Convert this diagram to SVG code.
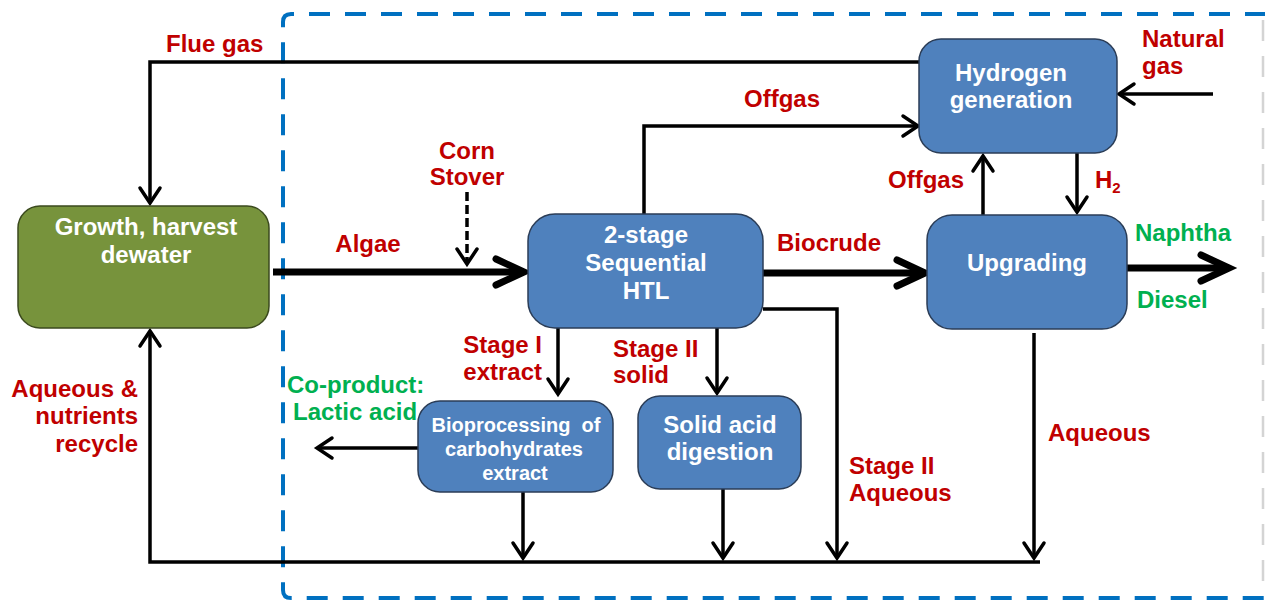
<svg xmlns="http://www.w3.org/2000/svg" width="1265" height="601" viewBox="0 0 1265 601">
<style>
text{font-family:"Liberation Sans",Arial,sans-serif;font-weight:bold;}
.lbl{font-size:24px;fill:#C00000;}
.grn{font-size:24px;fill:#00B050;}
.bt{font-size:24px;fill:#FFFFFF;text-anchor:middle;}
.blue{fill:#4F81BD;stroke:#2B3D57;stroke-width:1.5;}
.green{fill:#77933C;stroke:#3B4A1E;stroke-width:1.5;}
.c{fill:none;stroke:#000;stroke-width:3.5;}
.t{fill:none;stroke:#000;stroke-width:7;}
</style>
<defs>
<marker id="ah" markerUnits="userSpaceOnUse" viewBox="-20 -14 26 28" refX="0" refY="0" markerWidth="26" markerHeight="28" orient="auto" overflow="visible">
<path d="M-15,-10 L0,0 L-15,10" fill="none" stroke="#000" stroke-width="3.5" stroke-dasharray="none" stroke-linecap="round"/>
</marker>
<marker id="ahT" markerUnits="userSpaceOnUse" viewBox="-40 -20 46 40" refX="0" refY="0" markerWidth="46" markerHeight="40" orient="auto" overflow="visible">
<path d="M-28,-13 L0,0 L-28,13" fill="none" stroke="#000" stroke-width="7" stroke-linecap="round"/>
</marker>
</defs>
<rect width="1265" height="601" fill="#FFFFFF"/>

<g id="boundary">
<path d="M1266,14 H291 Q283,14 283,22 V590 Q283,598 291,598 H1266" fill="none" stroke="#0070C0" stroke-width="4" stroke-dasharray="21 15"/>
<line x1="1263" y1="20" x2="1263" y2="596" stroke="#D4D4D4" stroke-width="2.5" stroke-dasharray="21 15"/>
</g>

<g id="connectors">
<path class="c" d="M919,62 H150 V203" marker-end="url(#ah)"/>
<path class="t" d="M273,272 H524" marker-end="url(#ahT)"/>
<path d="M467,192 V264" fill="none" stroke="#000" stroke-width="3.5" stroke-dasharray="9 4" marker-end="url(#ah)"/>
<path class="c" d="M644,214 V126 H918" marker-end="url(#ah)"/>
<path class="c" d="M1213,94 H1119" marker-end="url(#ah)"/>
<path class="c" d="M983,215 V156" marker-end="url(#ah)"/>
<path class="c" d="M1077,153 V212" marker-end="url(#ah)"/>
<path class="t" d="M763,273 H925" marker-end="url(#ahT)"/>
<path class="t" d="M1127,268 H1229" marker-end="url(#ahT)"/>
<path class="c" d="M558,328 V394" marker-end="url(#ah)"/>
<path class="c" d="M717,328 V393" marker-end="url(#ah)"/>
<path class="c" d="M418,448 H317" marker-end="url(#ah)"/>
<path class="c" d="M763,309 H837 V558" marker-end="url(#ah)"/>
<path class="c" d="M1034,333 V558" marker-end="url(#ah)"/>
<path class="c" d="M523,492 V558" marker-end="url(#ah)"/>
<path class="c" d="M723,489 V558" marker-end="url(#ah)"/>
<path class="c" d="M1040,562 H150 V331" marker-end="url(#ah)"/>
</g>

<g id="growth">
<rect class="green" x="18" y="206" width="251" height="122" rx="22"/>
<text class="bt" x="146" y="235">Growth, harvest</text>
<text class="bt" x="146" y="263">dewater</text>
</g>

<g id="htl">
<rect class="blue" x="528" y="214" width="235" height="114" rx="27"/>
<text class="bt" x="646" y="243">2-stage</text>
<text class="bt" x="646" y="271">Sequential</text>
<text class="bt" x="646" y="299">HTL</text>
</g>

<g id="hydrogen">
<rect class="blue" x="919" y="39" width="198" height="114" rx="22"/>
<text class="bt" x="1011" y="81">Hydrogen</text>
<text class="bt" x="1011" y="108">generation</text>
</g>

<g id="upgrading">
<rect class="blue" x="927" y="215" width="200" height="114" rx="25"/>
<text class="bt" x="1027" y="271">Upgrading</text>
</g>

<g id="bioprocessing">
<rect class="blue" x="418" y="401" width="195" height="91" rx="22"/>
<text class="bt" x="516" y="432" style="font-size:20px" xml:space="preserve">Bioprocessing  of</text>
<text class="bt" x="514" y="456" style="font-size:20px">carbohydrates</text>
<text class="bt" x="515" y="480" style="font-size:20px">extract</text>
</g>

<g id="solidacid">
<rect class="blue" x="638" y="396" width="163" height="93" rx="22"/>
<text class="bt" x="720" y="433">Solid acid</text>
<text class="bt" x="720" y="460">digestion</text>
</g>

<g id="labels">
<text class="lbl" x="166" y="52">Flue gas</text>
<text class="lbl" x="1142" y="47">Natural</text>
<text class="lbl" x="1142" y="74">gas</text>
<text class="lbl" x="782" y="107" text-anchor="middle">Offgas</text>
<text class="lbl" x="467" y="159" text-anchor="middle">Corn</text>
<text class="lbl" x="467" y="185" text-anchor="middle">Stover</text>
<text class="lbl" x="368" y="252" text-anchor="middle">Algae</text>
<text class="lbl" x="777" y="251">Biocrude</text>
<text class="lbl" x="888" y="188">Offgas</text>
<text class="lbl" x="1095" y="188">H<tspan font-size="15" dy="5">2</tspan></text>
<text class="grn" x="1135" y="241">Naphtha</text>
<text class="grn" x="1137" y="308">Diesel</text>
<text class="lbl" x="542" y="353" text-anchor="end">Stage I</text>
<text class="lbl" x="542" y="380" text-anchor="end">extract</text>
<text class="lbl" x="613" y="357">Stage II</text>
<text class="lbl" x="613" y="383">solid</text>
<text class="grn" x="287" y="393">Co-product:</text>
<text class="grn" x="293" y="420">Lactic acid</text>
<text class="lbl" x="849" y="474">Stage II</text>
<text class="lbl" x="849" y="501">Aqueous</text>
<text class="lbl" x="1048" y="441">Aqueous</text>
<text class="lbl" x="138" y="397" text-anchor="end">Aqueous &amp;</text>
<text class="lbl" x="138" y="424" text-anchor="end">nutrients</text>
<text class="lbl" x="138" y="452" text-anchor="end">recycle</text>
</g>
</svg>
